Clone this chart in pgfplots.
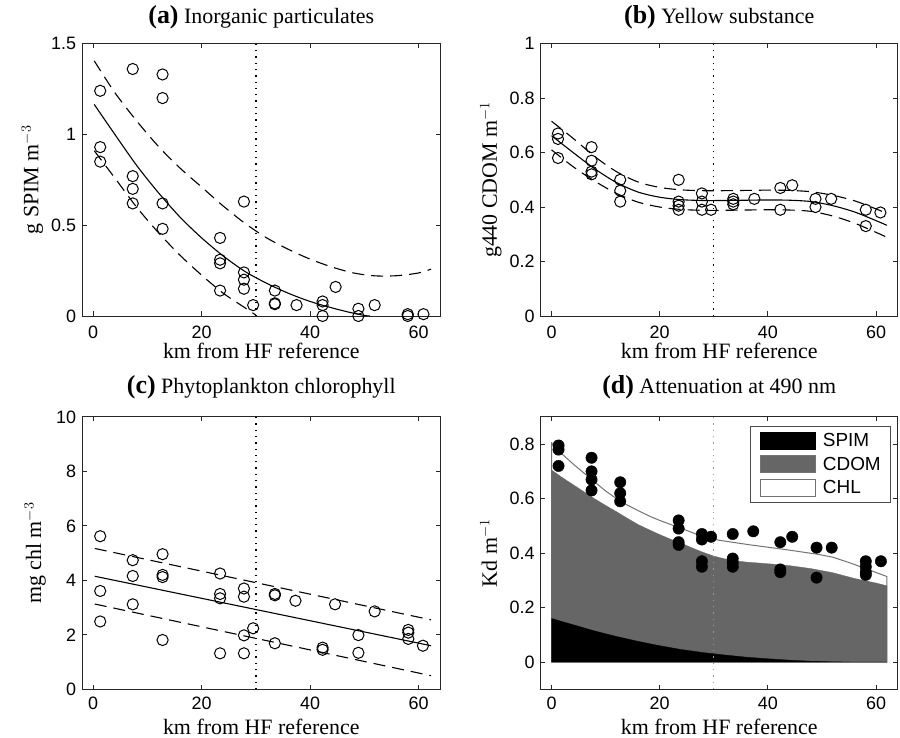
\documentclass[border=0pt]{standalone}
\usepackage{fontspec}
\setmainfont{Liberation Serif}
\setsansfont{Liberation Sans}
\usepackage{pgfplots}
\pgfplotsset{compat=1.18}
\definecolor{axc}{gray}{0.15}
\definecolor{cdom}{gray}{0.4}
\definecolor{chledge}{gray}{0.45}
\newcommand{\pl}[1]{{\fontsize{26}{26}\selectfont\bfseries #1}}
\pgfplotsset{
 myax/.style={
  scale only axis, width=358bp, height=272.4bp,
  xmin=-2, xmax=64, xtick={0,20,40,60},
  tick align=inside, major tick length=4.5bp,
  axis line style={axc, line width=0.9bp},
  tick style={axc, line width=0.9bp},
  /pgf/number format/assume math mode=true,
  tick label style={font=\fontsize{18}{18}\selectfont\sffamily, text=black},
  yticklabel style={anchor=east, inner sep=0pt, xshift=-6bp},
  title style={font=\fontsize{22}{22}\selectfont, anchor=base},
  label style={font=\fontsize{22}{22}\selectfont},
  ylabel style={anchor=base, at={(-0.1229,0.5)}},
  xlabel={km from HF reference},
 },
 toprow/.style={
  xticklabel style={anchor=north, inner sep=0pt, yshift=-9.5bp},
  title style={at={(0.5,1.0514)}},
  xlabel style={anchor=base, at={(0.5,-0.1545)}},
 },
 botrow/.style={
  xticklabel style={anchor=north, inner sep=0pt, yshift=-7bp},
  title style={at={(0.5,1.0624)}},
  xlabel style={anchor=base, at={(0.5,-0.166)}},
 },
 fitl/.style={black, line width=1.1bp, smooth, no marks},
 band/.style={black, line width=1.1bp, smooth, no marks, dash pattern=on 12bp off 7bp},
 vdot/.style={black, line width=1.4bp, dash pattern=on 1.3bp off 5bp, no marks},
 circ/.style={only marks, mark=o, mark size=5.6bp, mark options={black, line width=1bp, solid}},
}
\begin{document}
\begin{tikzpicture}
\path[use as bounding box] (0,0) rectangle (900bp,738bp);

% (a)
\begin{axis}[myax, toprow, at={(82.3bp,422bp)}, anchor=south west,
  ymin=0, ymax=1.5, ytick={0,0.5,1,1.5},
  title={\pl{(a)} Inorganic particulates},
  ylabel={g SPIM m$^{-3}$}]
\addplot[vdot] coordinates {(30,0) (30,1.5)};
\addplot[band] coordinates {(0.2,1.405) (4,1.23) (8,1.075) (12,0.935) (16,0.815) (20,0.71) (24,0.605) (28,0.51) (32,0.43) (36,0.367) (40,0.313) (44,0.27) (48,0.237) (52,0.221) (56,0.222) (60,0.237) (62.3,0.258)};
\addplot[band] coordinates {(0.2,0.91) (4,0.76) (8,0.60) (12,0.46) (16,0.335) (20,0.225) (24,0.125) (28,0.045) (30,0.005)};
\addplot[fitl] coordinates {(0.2,1.165) (4,1.00) (8,0.83) (12,0.68) (16,0.545) (20,0.43) (24,0.33) (28,0.245) (32,0.18) (36,0.125) (40,0.08) (44,0.045) (47.3,0.02) (50,0.003) (51,0)};
\addplot[circ] coordinates {(1.3,1.24) (1.3,0.93) (1.3,0.85) (7.3,1.36) (7.3,0.77) (7.3,0.70) (7.3,0.62)
 (12.8,1.33) (12.8,1.20) (12.8,0.62) (12.8,0.48) (23.4,0.43) (23.4,0.31) (23.4,0.29) (23.4,0.14)
 (27.8,0.63) (27.8,0.24) (27.8,0.20) (27.8,0.15) (29.5,0.06) (33.5,0.14) (33.5,0.07) (33.5,0.065)
 (37.5,0.06) (42.3,0.08) (42.3,0.06) (42.3,0.0) (44.7,0.16) (48.9,0.04) (48.9,0.0) (51.9,0.06)
 (58,0.01) (58,0.0) (60.9,0.01)};
\end{axis}

% (b)
\begin{axis}[myax, toprow, width=357bp, at={(540.7bp,422bp)}, anchor=south west,
  ymin=0, ymax=1, ytick={0,0.2,0.4,0.6,0.8,1},
  title={\pl{(b)} Yellow substance},
  ylabel={g440 CDOM m$^{-1}$}]
\addplot[vdot] coordinates {(30,0) (30,1)};
\addplot[band] coordinates {(0,0.715) (4,0.652) (8,0.585) (12,0.53) (16,0.492) (20,0.472) (24,0.463) (28,0.46) (32,0.46) (36,0.461) (40,0.462) (44,0.461) (48,0.456) (52,0.443) (56,0.423) (60,0.393) (62,0.377)};
\addplot[band] coordinates {(0,0.61) (4,0.548) (8,0.495) (12,0.45) (16,0.418) (20,0.4) (24,0.391) (28,0.388) (32,0.388) (36,0.389) (40,0.39) (44,0.389) (48,0.384) (52,0.367) (56,0.341) (60,0.307) (62,0.289)};
\addplot[fitl] coordinates {(0,0.662) (4,0.60) (8,0.54) (12,0.49) (16,0.455) (20,0.436) (24,0.427) (28,0.424) (32,0.424) (36,0.425) (40,0.426) (44,0.425) (48,0.42) (52,0.405) (56,0.382) (60,0.35) (62,0.333)};
\addplot[circ] coordinates {(1.2,0.67) (1.2,0.65) (1.2,0.58) (7.4,0.62) (7.4,0.57) (7.4,0.53) (7.4,0.52)
 (12.7,0.50) (12.7,0.46) (12.7,0.42) (23.5,0.50) (23.5,0.42) (23.5,0.405) (23.5,0.39)
 (27.8,0.45) (27.8,0.42) (27.8,0.39) (29.5,0.39) (33.6,0.43) (33.6,0.42) (33.6,0.41) (37.5,0.43)
 (42.3,0.47) (42.3,0.39) (44.5,0.48) (48.8,0.43) (48.8,0.40) (51.7,0.43) (58.1,0.39) (58.1,0.33) (60.8,0.38)};
\end{axis}

% (c)
\begin{axis}[myax, botrow, at={(82.3bp,48.7bp)}, anchor=south west,
  ymin=0, ymax=10, ytick={0,2,4,6,8,10},
  title={\pl{(c)} Phytoplankton chlorophyll},
  ylabel={mg chl m$^{-3}$}, ylabel style={at={(-0.115,0.5)}}]
\addplot[vdot] coordinates {(30,0) (30,10)};
\addplot[band, sharp plot] coordinates {(0.3,5.17) (62.3,2.55)};
\addplot[band, sharp plot] coordinates {(0.3,3.13) (62.3,0.50)};
\addplot[fitl, sharp plot] coordinates {(0.3,4.15) (62.3,1.60)};
\addplot[circ] coordinates {(1.3,5.62) (1.3,3.61) (1.3,2.49) (7.3,4.74) (7.3,4.16) (7.3,3.12)
 (12.8,4.96) (12.8,4.20) (12.8,4.12) (12.8,1.81) (23.4,4.25) (23.4,3.50) (23.4,3.34) (23.4,1.32)
 (27.8,3.70) (27.8,3.40) (27.8,1.98) (27.8,1.32) (29.5,2.24) (33.5,3.50) (33.5,3.45) (33.5,1.69)
 (37.3,3.25) (42.3,1.53) (42.3,1.45) (44.6,3.12) (48.9,1.99) (48.9,1.34) (51.9,2.86)
 (58.1,2.18) (58.1,2.08) (58.1,1.85) (60.8,1.60)};
\end{axis}

% (d)
\begin{axis}[myax, botrow, width=357bp, at={(540.7bp,48.7bp)}, anchor=south west,
  ymin=-0.1, ymax=0.9, ytick={0,0.2,0.4,0.6,0.8},
  title={\pl{(d)} Attenuation at 490 nm},
  ylabel={Kd m$^{-1}$},
  legend image code/.code={\draw[#1] (0bp,-8.35bp) rectangle (55bp,8.35bp);},
  legend cell align=left,
  legend style={at={(1,1)}, anchor=north east, xshift=-7bp, yshift=-9bp,
    draw=black!70, line width=0.9bp, fill=white,
    font=\fontsize{19}{19}\selectfont\sffamily,
    inner xsep=9.5bp, inner ysep=5.7bp, row sep=5.8bp, column sep=6.6bp,
    nodes={inner sep=0pt}}]
\addplot[forget plot, fill=white, draw=chledge, line width=1bp] coordinates {(0,0) (0,0.805) (1,0.785) (2,0.763) (4,0.727) (7.2,0.674) (10,0.628) (12.8,0.589) (16,0.556) (18.3,0.534) (20,0.52) (23.8,0.492) (27,0.468) (31,0.447) (36.8,0.430) (42.9,0.414) (49.1,0.396) (52,0.385) (55.2,0.364) (58.9,0.337) (62,0.314) (62,0)} -- cycle;
\addplot[forget plot, fill=cdom, draw=cdom, line width=0.3bp] coordinates {(0,0) (0,0.705) (2,0.677) (4,0.651) (6,0.625) (8,0.599) (10,0.575) (12,0.552) (14,0.528) (16,0.505) (18,0.486) (20,0.468) (22,0.451) (24,0.436) (26,0.419) (28,0.403) (30,0.389) (32,0.379) (34,0.372) (36,0.367) (40,0.361) (44,0.354) (48,0.343) (52,0.328) (56,0.307) (60,0.29) (62,0.28) (62,0)} -- cycle;
\addplot[forget plot, fill=black, draw=black, line width=0.3bp] coordinates {(0,0) (0,0.160) (4,0.137) (8,0.114) (12,0.094) (16,0.076) (20,0.060) (24,0.046) (28,0.035) (32,0.026) (36,0.018) (40,0.012) (44,0.007) (48,0.003) (52,0.001) (56,0) (62,0)} -- cycle;
\addplot[forget plot, vdot, black!40] coordinates {(30,-0.1) (30,0.9)};
\addplot[forget plot, only marks, mark=*, mark size=5.7bp, mark options={fill=black, draw=black}] coordinates {
 (1.3,0.795) (1.3,0.78) (1.3,0.72) (7.4,0.75) (7.4,0.70) (7.4,0.67) (7.4,0.63)
 (12.7,0.66) (12.7,0.62) (12.7,0.59) (23.5,0.52) (23.5,0.49) (23.5,0.44) (23.5,0.43)
 (27.8,0.47) (27.8,0.45) (27.8,0.37) (27.8,0.35) (29.5,0.46) (33.5,0.47) (33.5,0.38) (33.5,0.365) (33.5,0.35)
 (37.3,0.48) (42.3,0.44) (42.3,0.34) (42.3,0.33) (44.5,0.46) (49.0,0.42) (49.0,0.31) (51.8,0.42)
 (58.1,0.37) (58.1,0.35) (58.1,0.33) (58.1,0.32) (60.9,0.37)};
\addlegendimage{fill=black, draw=black}
\addlegendentry{SPIM}
\addlegendimage{fill=cdom, draw=black!55}
\addlegendentry{CDOM}
\addlegendimage{fill=white, draw=chledge, line width=1bp}
\addlegendentry{CHL}
\end{axis}
\end{tikzpicture}
\end{document}
